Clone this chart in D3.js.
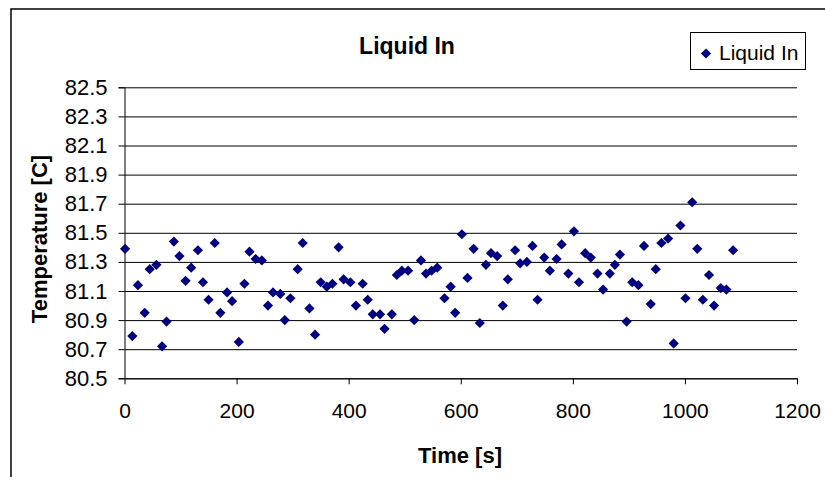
<!DOCTYPE html>
<html lang="en">
<head>
    <meta charset="UTF-8">
    <script src="https://d3js.org/d3.v7.min.js"></script>
    <title>Liquid In</title>
    <style>
        body { margin: 0; background: #fff; }
        text { font-family: "Liberation Sans", Arial, sans-serif; }
    </style>
</head>
<body>
    <svg width="825" height="477" id="chart"></svg>
    <script>
        // readings
        const times = [1, 14, 24, 36, 45, 57, 67, 75, 88, 98, 109, 119, 131, 140, 150, 161, 171, 183, 192, 204,
            214, 223, 234, 245, 256, 265, 278, 286, 296, 309, 318, 330, 340, 350, 361, 371, 382, 391, 403, 413,
            425, 434, 443, 456, 464, 477, 486, 495, 506, 517, 529, 538, 548, 558, 571, 582, 590, 602, 612, 623,
            634, 645, 654, 665, 675, 684, 697, 706, 718, 728, 737, 749, 759, 771, 780, 792, 802, 811, 822, 832,
            844, 854, 866, 875, 884, 896, 906, 917, 927, 939, 948, 958, 970, 980, 992, 1001, 1013, 1022, 1032, 1043,
            1052, 1064, 1074, 1086];
        const temps = [81.39, 80.79, 81.14, 80.95, 81.25, 81.28, 80.72, 80.89, 81.44, 81.34, 81.17, 81.26, 81.38, 81.16, 81.04, 81.43, 80.95, 81.09, 81.03, 80.75,
            81.15, 81.37, 81.32, 81.31, 81.00, 81.09, 81.08, 80.90, 81.05, 81.25, 81.43, 80.98, 80.80, 81.16, 81.13, 81.15, 81.40, 81.18, 81.16, 81.00,
            81.15, 81.04, 80.94, 80.94, 80.84, 80.94, 81.21, 81.24, 81.24, 80.90, 81.31, 81.22, 81.24, 81.26, 81.05, 81.13, 80.95, 81.49, 81.19, 81.39,
            80.88, 81.28, 81.36, 81.34, 81.00, 81.18, 81.38, 81.29, 81.30, 81.41, 81.04, 81.33, 81.24, 81.32, 81.42, 81.22, 81.51, 81.16, 81.36, 81.33,
            81.22, 81.11, 81.22, 81.28, 81.35, 80.89, 81.16, 81.14, 81.41, 81.01, 81.25, 81.43, 81.46, 80.74, 81.55, 81.05, 81.71, 81.39, 81.04, 81.21,
            81.00, 81.12, 81.11, 81.38];
        const xTicks = [0, 200, 400, 600, 800, 1000, 1200];
        const yTicks = [80.5, 80.7, 80.9, 81.1, 81.3, 81.5, 81.7, 81.9, 82.1, 82.3, 82.5];
        const seriesName = "Liquid In";

        let svg = d3.select("#chart");

        let x = d3.scaleLinear().domain([0, 1200]).range([124.5, 797]);
        let y = d3.scaleLinear().domain([80.5, 82.5]).range([378.3, 87.3]);

        // outer frame (runs off the bottom/right)
        svg.append("rect")
            .attr("x", 11).attr("y", 9)
            .attr("width", 830).attr("height", 500)
            .attr("style", "fill: none; stroke: black; stroke-width: 1.5");

        // gridlines
        let grid = svg.append("g")
            .attr("transform", "translate(124.5,0)")
            .call(d3.axisRight(y).tickValues(yTicks).tickSize(797 - 124.5).tickFormat(""));
        grid.select(".domain").remove();
        grid.selectAll("line").attr("stroke", "black");

        // y axis
        let yAxis = svg.append("g")
            .attr("transform", "translate(124.5,0)")
            .call(d3.axisLeft(y).tickValues(yTicks).tickSize(6).tickPadding(11).tickFormat(d3.format(".1f")));
        yAxis.selectAll("text").attr("style", "font-size: 22px; fill: black;");
        yAxis.select(".domain").attr("stroke", "black");

        // x axis
        let xAxis = svg.append("g")
            .attr("transform", "translate(0,378.3)")
            .call(d3.axisBottom(x).tickValues(xTicks).tickSize(6).tickPadding(19).tickSizeOuter(0).tickFormat(d3.format("d")));
        xAxis.selectAll("text").attr("style", "font-size: 21px; fill: black;");
        xAxis.select(".domain").attr("stroke", "black");

        // points
        let diamond = d3.symbol().type(d3.symbolSquare).size(52);
        svg.append("g").selectAll("path")
            .data(times)
            .join("path")
            .attr("d", diamond)
            .attr("transform", (d, i) => "translate(" + x(d) + "," + y(temps[i]) + ") rotate(45)")
            .attr("fill", "#000080");

        // title
        svg.append("text")
            .attr("x", 407).attr("y", 54)
            .attr("text-anchor", "middle")
            .text(seriesName)
            .attr("style", "font-weight: bold; font-size: 23px;");

        // axis labels
        svg.append("text")
            .attr("x", 460).attr("y", 463)
            .attr("text-anchor", "middle")
            .text("Time [s]")
            .attr("style", "font-weight: bold; font-size: 22px;");

        svg.append("text")
            .attr("transform", "translate(47,239) rotate(-90)")
            .attr("text-anchor", "middle")
            .text("Temperature [C]")
            .attr("style", "font-weight: bold; font-size: 22px;");

        // legend
        svg.append("rect")
            .attr("x", 690.5).attr("y", 32.5)
            .attr("width", 115).attr("height", 37)
            .attr("style", "fill: white; stroke: black; stroke-width: 1");
        svg.append("path")
            .attr("d", diamond)
            .attr("transform", "translate(706,53.5) rotate(45)")
            .attr("fill", "#000080");
        svg.append("text")
            .attr("x", 719).attr("y", 59.5)
            .text(seriesName)
            .attr("style", "font-size: 21px;");
    </script>
</body>
</html>
